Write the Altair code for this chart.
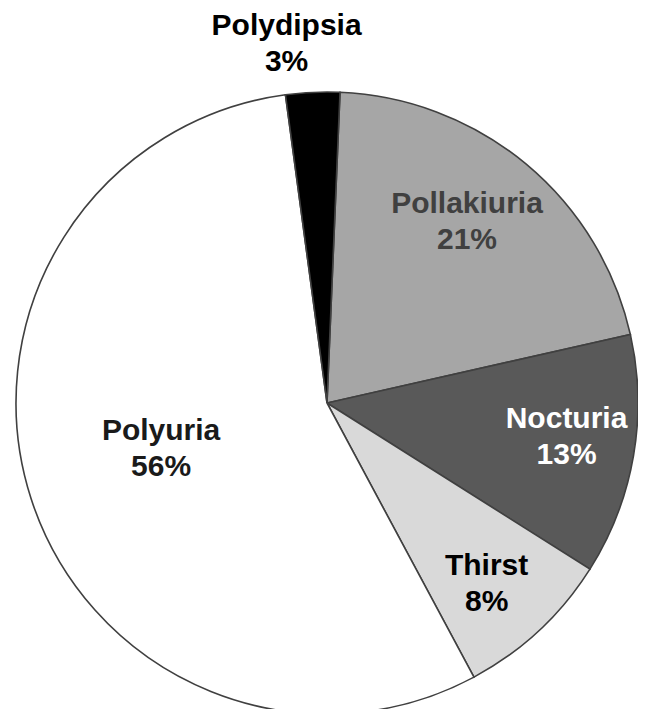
import math
import altair as alt
import pandas as pd

categories = ["Pollakiuria", "Nocturia", "Thirst", "Polyuria", "Polydipsia"]
shares = [20.8, 12.5, 8.2, 55.7, 2.8]
pct_labels = ["21%", "13%", "8%", "56%", "3%"]
fills = ["#a6a6a6", "#595959", "#d9d9d9", "#ffffff", "#000000"]
text_colors = ["#404040", "#ffffff", "#000000", "#1a1a1a", "#000000"]

df = pd.DataFrame({
    "category": categories,
    "share": shares,
    "pct": pct_labels,
    "idx": list(range(len(categories))),
    "fill": fills,
    "tcolor": text_colors,
})

total = float(sum(shares))
start = math.radians(2.4)
theta_scale = alt.Scale(domain=[0, total], range=[start, start + 2 * math.pi])

CX, CY, R = 319, 395, 311

arcs = alt.Chart(df).mark_arc(outerRadius=R, stroke="#404040", strokeWidth=1.6).encode(
    theta=alt.Theta("share:Q", stack=True, scale=theta_scale),
    order=alt.Order("idx:Q"),
    fill=alt.Fill("fill:N", scale=None),
    x=alt.value(CX),
    y=alt.value(CY),
)

# label placement (radius in px, small angular nudge in share units)
label_radius = ("datum.category == 'Pollakiuria' ? 228 : "
                "datum.category == 'Nocturia' ? 240 : "
                "datum.category == 'Thirst' ? 240 : "
                "datum.category == 'Polyuria' ? 174 : 361")
label_nudge = ("datum.category == 'Pollakiuria' ? -0.72 : "
               "datum.category == 'Nocturia' ? -0.44 : "
               "datum.category == 'Thirst' ? 0.53 : "
               "datum.category == 'Polyuria' ? 0.75 : -1.14")

text_common = dict(font="Liberation Sans", fontSize=30, fontWeight="bold",
                   lineBreak="\n", lineHeight=36, align="center", baseline="middle",
                   dy=-18, dx=2)

labels = alt.Chart(df).transform_window(
    cum="sum(share)", sort=[alt.SortField("idx")], frame=[None, 0]
).transform_calculate(
    mid=f"datum.cum - datum.share / 2 + ({label_nudge})",
    rr=label_radius,
    txt="datum.category + '\\n' + datum.pct",
).mark_text(**text_common).encode(
    theta=alt.Theta("mid:Q", stack=None, scale=theta_scale),
    radius=alt.Radius("rr:Q", scale=None),
    text="txt:N",
    color=alt.Color("tcolor:N", scale=None),
    x=alt.value(CX),
    y=alt.value(CY),
)

chart = alt.layer(arcs, labels).properties(
    width=630, height=701, padding=0, autosize="none",
    background="white",
).configure_view(stroke=None)

chart.save("out.html", embed_options={"renderer": "svg", "actions": False})
